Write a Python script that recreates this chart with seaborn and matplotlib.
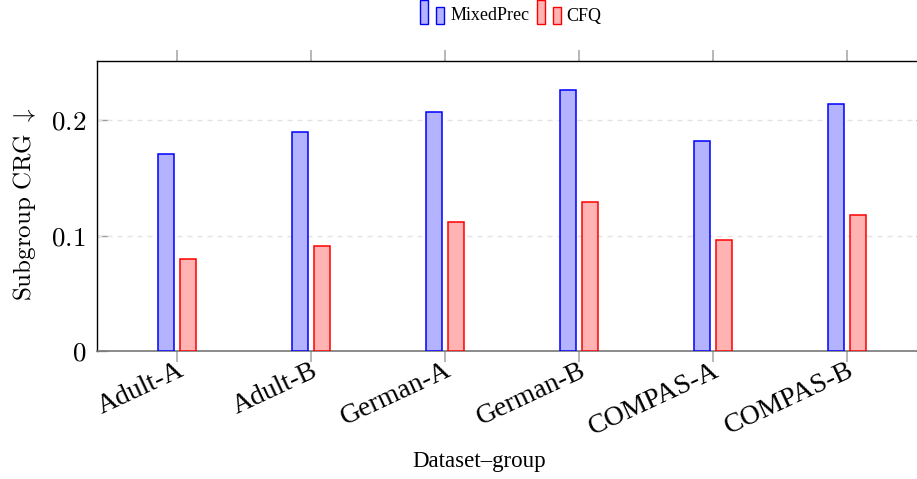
import matplotlib
matplotlib.use("Agg")
import matplotlib.pyplot as plt
import seaborn as sns
import pandas as pd
from matplotlib.patches import Rectangle
from matplotlib.legend_handler import HandlerBase
from matplotlib.ticker import FixedLocator, FixedFormatter

categories = ["Adult-A", "Adult-B", "German-A", "German-B", "COMPAS-A", "COMPAS-B"]
mixedprec = [0.171, 0.190, 0.207, 0.226, 0.182, 0.214]
cfq = [0.080, 0.091, 0.112, 0.129, 0.096, 0.118]
series_names = ["MixedPrec", "CFQ"]
ytick_vals = [0.0, 0.1, 0.2]
ytick_labels = ["$0$", "$0.1$", "$0.2$"]

fills = {"MixedPrec": "#b3b3ff", "CFQ": "#ffb3b3"}
edges = {"MixedPrec": "#0000ff", "CFQ": "#ff0000"}

df = pd.DataFrame({
    "cat": categories * 2,
    "val": mixedprec + cfq,
    "series": [series_names[0]] * len(categories) + [series_names[1]] * len(categories),
})

sns.set_theme(style="white")
plt.rcParams["font.family"] = ["Liberation Serif", "DejaVu Serif"]
plt.rcParams["mathtext.fontset"] = "cm"
plt.rcParams["text.color"] = "black"
plt.rcParams["axes.labelcolor"] = "black"
plt.rcParams["xtick.color"] = "black"
plt.rcParams["ytick.color"] = "black"
plt.rcParams["xtick.labelsize"] = 20
plt.rcParams["ytick.labelsize"] = 19.5

W, H = 917, 479
fig = plt.figure(figsize=(W / 100, H / 100), dpi=100)
ax_l, ax_r, ax_t, ax_b = 97, 927, 61, 351
ax = fig.add_axes([ax_l / W, 1 - ax_b / H, (ax_r - ax_l) / W, (ax_b - ax_t) / H])

sns.barplot(data=df, x="cat", y="val", hue="series", order=categories,
            hue_order=series_names, palette=fills, saturation=1, width=0.316,
            gap=0.25, linewidth=1.1, ax=ax, legend=False, zorder=3)
for cont, name in zip(ax.containers, series_names):
    for p in cont.patches:
        p.set_edgecolor(edges[name])
        p.set_linewidth(1.1)

ax.set_xlim(-0.597, len(categories) - 1 + 0.597)
ax.set_ylim(0, 0.2513)

# grid
for yv in ytick_vals[1:]:
    ax.axhline(yv, color="#e3e3e3", lw=1.0, ls=(0, (3.6, 3.6)), zorder=1)

ax.yaxis.set_major_locator(FixedLocator(ytick_vals))
ax.yaxis.set_major_formatter(FixedFormatter(ytick_labels))
ax.tick_params(axis="y", direction="in", length=8, width=1, color="#9a9a9a",
               labelcolor="black", labelsize=19.5, pad=8, left=True, right=True)
ax.set_xticks(range(len(categories)))
ax.set_xticklabels(categories, rotation=25, ha="right", rotation_mode="anchor",
                   va="top")
ax.tick_params(axis="x", direction="out", length=8, width=1.2, color="#aaaaaa",
               labelcolor="black", labelsize=20, top=True, bottom=True, pad=-3)
for t in ax.get_xticklabels():
    t.set_fontsize(20)

for s in ["left", "top", "right"]:
    ax.spines[s].set_color("black")
    ax.spines[s].set_linewidth(1.0)
ax.spines["bottom"].set_color("#777777")
ax.spines["bottom"].set_linewidth(1.2)

ax.set_xlabel("Dataset\u2013group", fontsize=16.5, color="black")
ax.xaxis.set_label_coords((479 - ax_l) / (ax_r - ax_l), -(462 - ax_b) / (ax_b - ax_t))
ax.xaxis.label.set_va("center")
ax.set_ylabel(r"$\mathrm{Subgroup\ CRG}\ \downarrow$", fontsize=18, color="black")
ax.yaxis.set_label_coords(-(97 - 25) / (ax_r - ax_l), (ax_b - 204) / (ax_b - ax_t))
ax.yaxis.label.set_va("center")


class TwoBars(HandlerBase):
    def __init__(self, fill, edge):
        super().__init__()
        self.fill = fill
        self.edge = edge

    def create_artists(self, legend, orig_handle, xdescent, ydescent, width,
                       height, fontsize, trans):
        bw = width / 3.0
        x0 = -xdescent
        y0 = -ydescent - 0.3 * height
        r1 = Rectangle((x0, y0), bw, 1.9 * height, facecolor=self.fill,
                       edgecolor=self.edge, lw=1.0, transform=trans)
        r2 = Rectangle((x0 + 2 * bw, y0), bw, 1.35 * height, facecolor=self.fill,
                       edgecolor=self.edge, lw=1.0, transform=trans)
        return [r1, r2]


h1 = Rectangle((0, 0), 1, 1)
h2 = Rectangle((0, 0), 1, 1)
fig.legend([h1, h2], series_names,
           handler_map={h1: TwoBars(fills["MixedPrec"], edges["MixedPrec"]),
                        h2: TwoBars(fills["CFQ"], edges["CFQ"])},
           loc="center", bbox_to_anchor=(511 / W, 1 - 16 / H), ncol=2,
           frameon=False, fontsize=13, handlelength=1.33, handletextpad=0.33,
           columnspacing=0.4, borderpad=0.1, labelcolor="black")

fig.savefig("out.png", dpi=100)
